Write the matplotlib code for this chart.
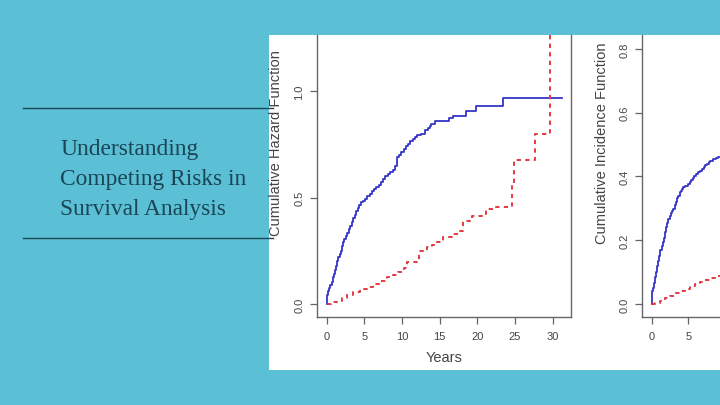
import matplotlib as mpl
mpl.use('Agg')
import matplotlib.pyplot as plt
from matplotlib.patches import Rectangle
from matplotlib.lines import Line2D

# slide text
title_lines = ['Understanding', 'Competing Risks in', 'Survival Analysis']

# cumulative hazard, cause 1 (blue solid)
haz1_t = [0, 0.05, 0.2, 0.35, 0.5, 0.65, 0.8, 0.95, 1.1, 1.25, 1.4, 1.55, 1.7, 1.85,
          2.0, 2.15, 2.3, 2.5, 2.7, 2.9, 3.1, 3.3, 3.5, 3.7, 3.9, 4.1, 4.3, 4.5, 4.8,
          5.1, 5.4, 5.7, 6.0, 6.3, 6.6, 6.9, 7.2, 7.5, 7.8, 8.1, 8.4, 8.8, 9.1, 9.3,
          9.6, 9.9, 10.2, 10.5, 10.8, 11.1, 11.4, 11.7, 12.0, 12.5, 13.05, 13.4, 13.7,
          13.9, 14.4, 16.2, 16.8, 18.5, 19.8, 23.45, 31.2]
haz1_v = [0, 0.04, 0.06, 0.075, 0.09, 0.105, 0.125, 0.14, 0.16, 0.18, 0.20, 0.22,
          0.235, 0.25, 0.27, 0.29, 0.305, 0.32, 0.335, 0.35, 0.365, 0.385, 0.405,
          0.42, 0.435, 0.45, 0.465, 0.478, 0.485, 0.495, 0.505, 0.515, 0.53, 0.54,
          0.55, 0.56, 0.575, 0.585, 0.60, 0.61, 0.62, 0.63, 0.65, 0.69, 0.70, 0.715,
          0.73, 0.74, 0.75, 0.765, 0.775, 0.785, 0.795, 0.80, 0.815, 0.825, 0.838,
          0.846, 0.857, 0.873, 0.882, 0.904, 0.929, 0.967, 0.967]

# cumulative hazard, cause 2 (red dashed)
haz2_t = [0, 0.6, 1.3, 2.0, 2.65, 3.5, 4.4, 5.3, 6.2, 7.1, 8.0, 8.85, 9.5, 10.2, 10.6,
          12.2, 13.3, 14.0, 14.6, 15.5, 16.6, 17.7, 18.1, 19.25, 20.6, 21.2, 22.1,
          24.6, 24.9, 27.65, 29.65]
haz2_v = [0, 0.008, 0.016, 0.028, 0.04, 0.055, 0.07, 0.082, 0.094, 0.11, 0.125, 0.136,
          0.15, 0.168, 0.196, 0.25, 0.266, 0.278, 0.29, 0.313, 0.33, 0.345, 0.39,
          0.415, 0.423, 0.447, 0.455, 0.56, 0.674, 0.80, 1.40]

# cumulative incidence, cause 1 and 2
cif1_t = [0, 0.02, 0.15, 0.3, 0.45, 0.6, 0.75, 0.9, 1.05, 1.2, 1.35, 1.5, 1.65, 1.8,
          1.95, 2.1, 2.27, 2.45, 2.6, 2.8, 2.95, 3.15, 3.3, 3.5, 3.64, 3.85, 4.0, 4.15,
          4.3, 4.6, 5.0, 5.2, 5.4, 5.6, 5.8, 6.1, 6.35, 6.6, 6.85, 7.1, 7.3, 7.5, 7.75,
          8.0, 8.4, 8.8, 9.1, 9.6, 10.2]
cif1_v = [0, 0.042, 0.05, 0.065, 0.085, 0.10, 0.118, 0.135, 0.152, 0.168, 0.182,
          0.195, 0.208, 0.225, 0.24, 0.255, 0.267, 0.277, 0.285, 0.292, 0.298, 0.31,
          0.32, 0.332, 0.34, 0.35, 0.355, 0.362, 0.366, 0.37, 0.377, 0.382, 0.388,
          0.394, 0.40, 0.407, 0.413, 0.418, 0.425, 0.43, 0.435, 0.44, 0.445, 0.45,
          0.455, 0.458, 0.46, 0.47, 0.48]
cif2_t = [0, 0.5, 1.1, 1.8, 2.5, 3.2, 3.9, 4.5, 5.2, 5.9, 6.6, 7.3, 8.0, 8.9, 9.6, 10.2]
cif2_v = [0, 0.004, 0.01, 0.018, 0.026, 0.034, 0.042, 0.048, 0.055, 0.062, 0.068,
          0.074, 0.08, 0.089, 0.095, 0.1]

W, H = 720, 406
teal = '#5bbfd5'
ink = '#1a4555'
blue = '#3535c8'
red = '#e23a42'
gray = '#666666'
txt = '#444444'

plt.rcParams['font.family'] = ['Liberation Sans', 'DejaVu Sans']

fig = plt.figure(figsize=(W / 100, H / 100), dpi=100, facecolor=teal)


def fx(px):
    return px / W


def fy(py):
    return 1 - py / H


# white panel behind the plots
fig.patches.append(Rectangle((fx(269), fy(371)), fx(720 - 269), (371 - 36) / H,
                             transform=fig.transFigure, facecolor='white',
                             edgecolor='none', zorder=-10))


def style_axes(ax, right_visible):
    ax.set_facecolor('none')
    ax.spines['top'].set_visible(False)
    ax.spines['right'].set_visible(right_visible)
    for s in ax.spines.values():
        s.set_color(gray)
        s.set_linewidth(1.0)
    ax.tick_params(direction='out', length=5, width=0.9, color=gray,
                   labelcolor=txt, labelsize=8)
    ax.tick_params(axis='x', pad=5.5)
    ax.tick_params(axis='y', pad=4)
    for lab in ax.get_yticklabels():
        lab.set_rotation(90)
        lab.set_va('center')


# left: cumulative hazard
ax1 = fig.add_axes([fx(316.7), fy(317.7), (570.7 - 316.7) / W, (317.7 - 36) / H])
ax1.step(haz1_t, haz1_v, where='post', color=blue, lw=1.3)
ax1.step(haz2_t, haz2_v, where='post', color=red, lw=1.4, dashes=(2.2, 2.2))
ax1.set_xlim(-1.33, 32.39)
ax1.set_ylim(-0.0596, 1.263)
ax1.set_xticks([0, 5, 10, 15, 20, 25, 30])
ax1.set_yticks([0.0, 0.5, 1.0])
ax1.set_yticklabels(['0.0', '0.5', '1.0'])
style_axes(ax1, True)
ax1.set_xlabel('Years', fontsize=10.5, color=txt, labelpad=6)
ax1.set_ylabel('Cumulative Hazard Function', fontsize=10.5, color=txt)
ax1.yaxis.set_label_coords(-0.134, 0.62)

# right: cumulative incidence (cut off by the slide edge)
ax2 = fig.add_axes([fx(641.7), fy(317.7), 247 / W, (317.7 - 36) / H])
ax2.step(cif1_t, cif1_v, where='post', color=blue, lw=1.3)
ax2.step(cif2_t, cif2_v, where='post', color=red, lw=1.4, dashes=(2.2, 2.2))
ax2.set_xlim(-1.36, 32.3)
ax2.set_ylim(-0.04, 0.844)
ax2.set_xticks([0, 5])
ax2.set_yticks([0.0, 0.2, 0.4, 0.6, 0.8])
ax2.set_yticklabels(['0.0', '0.2', '0.4', '0.6', '0.8'])
style_axes(ax2, False)
ax2.set_ylabel('Cumulative Incidence Function', fontsize=10.5, color=txt)
ax2.yaxis.set_label_coords(-0.132, 0.62)

# title block on the left
for i, line in enumerate(title_lines):
    fig.text(fx(60), fy(155 + 30 * i), line, family='Liberation Serif',
             fontsize=16.8, color=ink, va='baseline', ha='left')
for py in [108.5, 238.5]:
    fig.add_artist(Line2D([fx(23), fx(273)], [fy(py), fy(py)], color=ink,
                          lw=1.0, transform=fig.transFigure, zorder=5))

fig.savefig('out.png', dpi=100, facecolor=teal)
